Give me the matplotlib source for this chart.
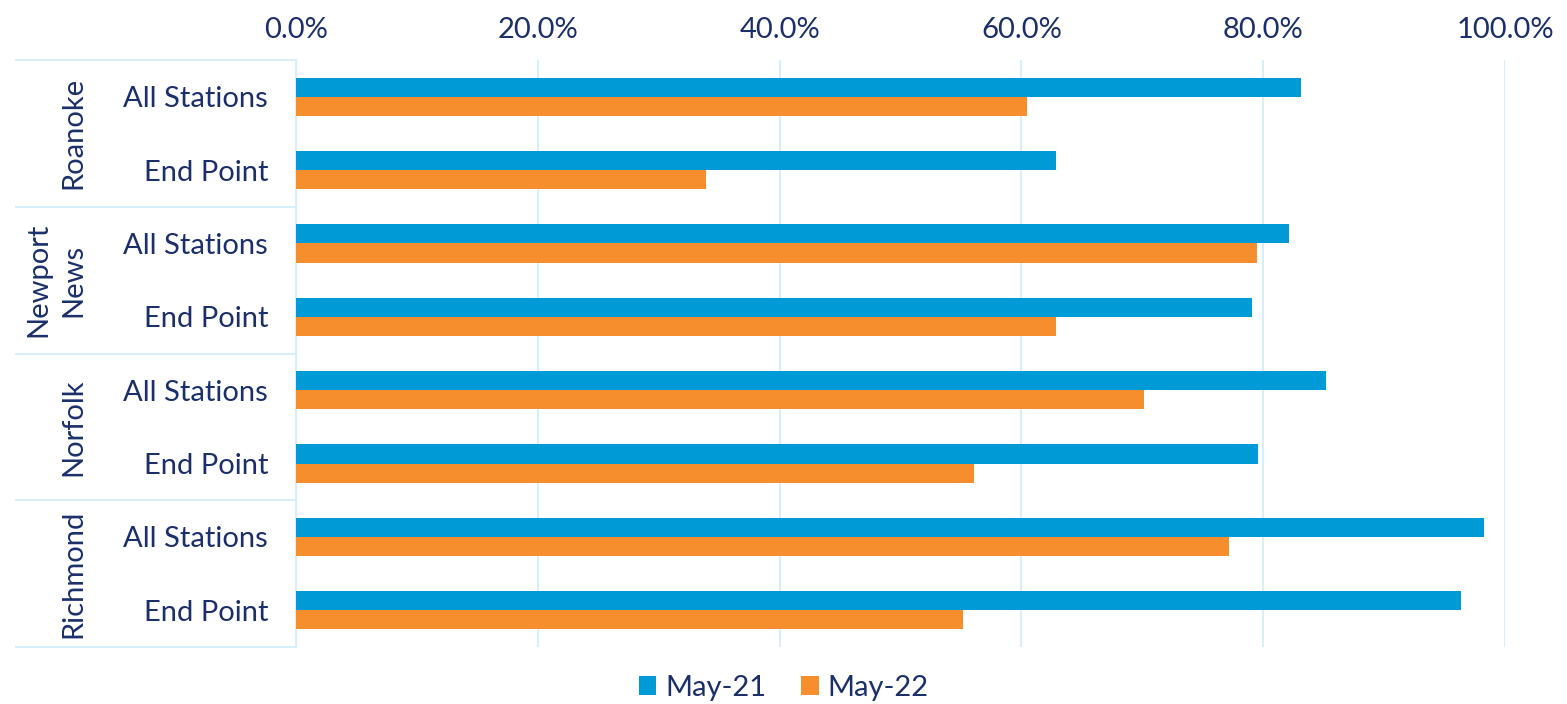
import numpy as np
import matplotlib.pyplot as plt
from matplotlib.ticker import PercentFormatter

cities = ["Roanoke", "Newport\nNews", "Norfolk", "Richmond"]
stations = ["All Stations", "End Point"]
may21 = [83.1, 62.9, 82.1, 79.1, 85.2, 79.6, 98.3, 96.4]
may22 = [60.5, 33.9, 79.5, 62.9, 70.1, 56.1, 77.2, 55.2]

navy = "#1b2f6b"
blue = "#009bd6"
orange = "#f68e2e"
grid_c = "#d6effb"

plt.rcParams['font.family'] = ['Lato', 'DejaVu Sans']
fs = 21

W, H = 1567, 704
fig = plt.figure(figsize=(W / 100, H / 100), dpi=100)
ax = fig.add_axes([296 / W, 1 - 647 / H, (1505 - 296) / W, (647 - 60) / H])

n = len(may21)
y = np.arange(n)
h = 0.26
ax.barh(y - h / 2, may21, height=h, color=blue, label="May-21", zorder=3)
ax.barh(y + h / 2, may22, height=h, color=orange, label="May-22", zorder=3)

ax.set_xlim(0, 100)
ax.set_ylim(n - 0.5, -0.5)
ax.set_xticks(np.arange(0, 101, 20))
ax.xaxis.set_major_formatter(PercentFormatter(decimals=1))
ax.xaxis.tick_top()
ax.tick_params(axis='x', length=0, labelsize=fs, labelcolor=navy, pad=12)
ax.grid(axis='x', color=grid_c, lw=1.5, zorder=0)

ax.set_yticks(y)
ax.set_yticklabels(stations * len(cities))
ax.tick_params(axis='y', length=0, labelsize=fs, labelcolor=navy, pad=20)

for s in ['top', 'right', 'bottom']:
    ax.spines[s].set_visible(False)
ax.spines['left'].set_color(grid_c)
ax.spines['left'].set_linewidth(1.5)

# group separators and city labels on the left
trans = ax.get_yaxis_transform()
x0 = (16 - 296) / (1505 - 296)
for k in range(len(cities) + 1):
    ax.plot([x0, 0], [2 * k - 0.5] * 2, transform=trans, color=grid_c, lw=1.5, clip_on=False)
for k, c in enumerate(cities):
    ax.annotate(c, xy=(86 / W, 0), xycoords='figure fraction',
                xytext=(86 / W, 2 * k + 0.5), textcoords=('figure fraction', 'data'),
                rotation=90, ha='right', va='center', multialignment='center',
                fontsize=fs, color=navy, linespacing=1.4)

fig.legend(loc='center', bbox_to_anchor=(0.5, 1 - 688 / H), ncol=2, frameon=False, fontsize=fs,
           labelcolor=navy, handlelength=0.6, handleheight=0.6, handletextpad=0.3, columnspacing=1.2,
           borderpad=0)

fig.savefig("out.png")
